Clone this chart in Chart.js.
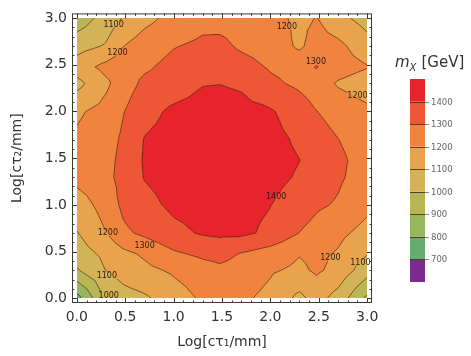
<!DOCTYPE html>
<html>
<head>
<meta charset="utf-8">
<script src="https://cdn.jsdelivr.net/npm/chart.js@4.4.1/dist/chart.umd.min.js"></script>
<style>
  html,body{margin:0;padding:0;background:#fff}
</style>
</head>
<body>
<canvas id="chart" width="471" height="356"></canvas>
<script>
// grid of Log[c tau / mm] values (1,2,3,5,10,... mm), same on both axes
const logCtau=[0, 0.301, 0.477, 0.699, 1, 1.301, 1.477, 1.699, 2, 2.301, 2.477, 2.699, 3];

// m_X [GeV], one row per Log[c tau2] (bottom row first)
const massRows=[
  [760, 1010, 1060, 1085, 1150, 1215, 1240, 1220, 1170, 1075, 1140, 1060, 880],
  [990, 1102, 1140, 1175, 1215, 1260, 1280, 1265, 1212, 1180, 1215, 1170, 1040],
  [1050, 1125, 1175, 1215, 1285, 1320, 1330, 1295, 1255, 1205, 1225, 1190, 1105],
  [1095, 1198, 1280, 1320, 1375, 1410, 1420, 1420, 1380, 1298, 1265, 1225, 1165],
  [1150, 1240, 1320, 1370, 1420, 1440, 1445, 1430, 1402, 1350, 1315, 1290, 1225],
  [1230, 1275, 1330, 1405, 1440, 1455, 1460, 1450, 1430, 1390, 1350, 1315, 1255],
  [1240, 1270, 1325, 1410, 1445, 1460, 1465, 1455, 1435, 1401, 1360, 1320, 1260],
  [1215, 1260, 1315, 1405, 1440, 1455, 1460, 1450, 1430, 1385, 1345, 1302, 1250],
  [1185, 1235, 1295, 1365, 1420, 1440, 1445, 1435, 1410, 1350, 1302, 1260, 1220],
  [1070, 1180, 1255, 1320, 1345, 1395, 1398, 1385, 1320, 1280, 1250, 1190, 1150],
  [1150, 1230, 1255, 1285, 1330, 1360, 1365, 1340, 1290, 1265, 1305, 1245, 1205],
  [1060, 1110, 1198, 1250, 1295, 1320, 1325, 1285, 1255, 1185, 1240, 1226, 1140],
  [940, 1040, 1105, 1170, 1230, 1270, 1265, 1255, 1230, 1180, 1203, 1130, 1060]
];

const levels=[600, 700, 800, 900, 1000, 1100, 1200, 1300, 1400, 1500];
const bandColors=['#7b2b8e','#64ad6c','#97b65e','#b8b654','#d2b357','#e9a34d','#f0843f','#ee5736','#e7242b'];
const tickVals=[0, 0.5, 1, 1.5, 2, 2.5, 3];

// contour labels: [Log ctau1, Log ctau2, text]
const contourLabels=[
  [0.38, 2.93, '1100'],
  [0.42, 2.63, '1200'],
  [2.17, 2.91, '1200'],
  [2.47, 2.53, '1300'],
  [2.90, 2.17, '1200'],
  [2.06, 1.09, '1400'],
  [0.32, 0.70, '1200'],
  [0.70, 0.56, '1300'],
  [0.31, 0.24, '1100'],
  [0.33, 0.03, '1000'],
  [2.62, 0.43, '1200'],
  [2.93, 0.38, '1100']
];

const lineColor='rgba(70,35,20,0.8)';
const n=logCtau.length;

function cellOf(v){
  let i=0;
  while(i<n-2 && v>logCtau[i+1]) i++;
  return i;
}

function bary(px,py,x1,y1,z1,x2,y2,z2,x3,y3,z3){
  const det=(y2-y3)*(x1-x3)+(x3-x2)*(y1-y3);
  const l1=((y2-y3)*(px-x3)+(x3-x2)*(py-y3))/det;
  const l2=((y3-y1)*(px-x3)+(x1-x3)*(py-y3))/det;
  return l1*z1+l2*z2+(1-l1-l2)*z3;
}

// each grid cell split in 4 triangles around its centre
function cellTris(i,j){
  const x0=logCtau[i],x1=logCtau[i+1],y0=logCtau[j],y1=logCtau[j+1];
  const a=massRows[j][i],b=massRows[j][i+1],c=massRows[j+1][i+1],d=massRows[j+1][i];
  const A=[x0,y0,a],B=[x1,y0,b],C=[x1,y1,c],D=[x0,y1,d];
  const M=[(x0+x1)/2,(y0+y1)/2,(a+b+c+d)/4];
  return [[A,B,M],[B,C,M],[C,D,M],[D,A,M]];
}

function massAt(x,y){
  x=Math.min(3,Math.max(0,x)); y=Math.min(3,Math.max(0,y));
  const i=cellOf(x),j=cellOf(y);
  const u=(x-logCtau[i])/(logCtau[i+1]-logCtau[i]);
  const v=(y-logCtau[j])/(logCtau[j+1]-logCtau[j]);
  const tris=cellTris(i,j);
  let t;
  if(v<=u && v<=1-u) t=tris[0];
  else if(u>=v && u>=1-v) t=tris[1];
  else if(v>=u && v>=1-u) t=tris[2];
  else t=tris[3];
  return bary(x,y,t[0][0],t[0][1],t[0][2],t[1][0],t[1][1],t[1][2],t[2][0],t[2][1],t[2][2]);
}

function bandOf(z){
  let k=0;
  while(k<bandColors.length-1 && z>=levels[k+1]) k++;
  return k;
}

function hexRgb(h){
  return [parseInt(h.slice(1,3),16),parseInt(h.slice(3,5),16),parseInt(h.slice(5,7),16)];
}

const contourPlugin={
  id:'contour',
  beforeDatasetsDraw(chart){
    const {ctx,chartArea}=chart;
    const xs=chart.scales.x, ys=chart.scales.y;
    const left=Math.round(xs.getPixelForValue(logCtau[0]));
    const right=Math.round(xs.getPixelForValue(logCtau[n-1]));
    const top=Math.round(ys.getPixelForValue(logCtau[n-1]));
    const bottom=Math.round(ys.getPixelForValue(logCtau[0]));
    const w=right-left,h=bottom-top;

    // filled bands
    const rgb=bandColors.map(hexRgb);
    const off=document.createElement('canvas');
    off.width=w; off.height=h;
    const octx=off.getContext('2d');
    const img=octx.createImageData(w,h);
    for(let r=0;r<h;r++){
      const y=ys.getValueForPixel(top+r+0.5);
      for(let c=0;c<w;c++){
        const x=xs.getValueForPixel(left+c+0.5);
        const col=rgb[bandOf(massAt(x,y))];
        const p=(r*w+c)*4;
        img.data[p]=col[0]; img.data[p+1]=col[1]; img.data[p+2]=col[2]; img.data[p+3]=255;
      }
    }
    octx.putImageData(img,0,0);
    ctx.drawImage(off,left,top);

    // contour lines, with gaps under the labels
    ctx.save();
    ctx.font='8px "DejaVu Sans"';
    ctx.beginPath();
    ctx.rect(left,top,w,h);
    contourLabels.forEach(([lx,ly,txt])=>{
      const cx=xs.getPixelForValue(lx),cy=ys.getPixelForValue(ly);
      const tw=ctx.measureText(txt).width;
      ctx.rect(cx-tw/2-1,cy-3,tw+2,6);
    });
    ctx.clip('evenodd');
    ctx.beginPath();
    for(let j=0;j<n-1;j++){
      for(let i=0;i<n-1;i++){
        cellTris(i,j).forEach(tri=>{
          for(let k=1;k<levels.length-1;k++){
            const L=levels[k];
            const pts=[];
            for(let e=0;e<3;e++){
              const P=tri[e],Q=tri[(e+1)%3];
              if((P[2]>=L)!==(Q[2]>=L)){
                const t=(L-P[2])/(Q[2]-P[2]);
                pts.push([P[0]+t*(Q[0]-P[0]),P[1]+t*(Q[1]-P[1])]);
              }
            }
            if(pts.length===2){
              ctx.moveTo(xs.getPixelForValue(pts[0][0]),ys.getPixelForValue(pts[0][1]));
              ctx.lineTo(xs.getPixelForValue(pts[1][0]),ys.getPixelForValue(pts[1][1]));
            }
          }
        });
      }
    }
    ctx.strokeStyle=lineColor;
    ctx.lineWidth=0.8;
    ctx.stroke();
    ctx.restore();

    ctx.save();
    ctx.font='8px "DejaVu Sans"';
    ctx.fillStyle='#2a1a12';
    ctx.textAlign='center';
    ctx.textBaseline='middle';
    contourLabels.forEach(([lx,ly,txt])=>{
      ctx.fillText(txt,xs.getPixelForValue(lx),ys.getPixelForValue(ly));
    });
    ctx.restore();
  },
  afterDraw(chart){
    const {ctx,chartArea:ca}=chart;
    const xs=chart.scales.x, ys=chart.scales.y;
    ctx.save();
    // frame with inward ticks
    ctx.strokeStyle='#3a3a3a';
    ctx.lineWidth=1;
    ctx.strokeRect(ca.left+0.5,ca.top+0.5,ca.width-1,ca.height-1);
    ctx.beginPath();
    for(let m=0;m<=30;m++){
      const v=m/10;
      const len=(m%5===0)?5:2.5;
      const px=Math.round(xs.getPixelForValue(v))+0.5;
      const py=Math.round(ys.getPixelForValue(v))+0.5;
      ctx.moveTo(px,ca.bottom); ctx.lineTo(px,ca.bottom-len);
      ctx.moveTo(px,ca.top); ctx.lineTo(px,ca.top+len);
      ctx.moveTo(ca.left,py); ctx.lineTo(ca.left+len,py);
      ctx.moveTo(ca.right,py); ctx.lineTo(ca.right-len,py);
    }
    ctx.stroke();

    // colour bar
    const cbL=410,cbR=425,cbTop=79,cbBot=282;
    const lo=levels[0],hi=levels[levels.length-1];
    const cy=v=>cbBot-(v-lo)/(hi-lo)*(cbBot-cbTop);
    for(let k=0;k<bandColors.length;k++){
      ctx.fillStyle=bandColors[k];
      ctx.fillRect(cbL,cy(levels[k+1]),cbR-cbL,cy(levels[k])-cy(levels[k+1]));
    }
    ctx.font='8.5px "DejaVu Sans"';
    ctx.textBaseline='middle';
    ctx.textAlign='left';
    for(let k=1;k<levels.length-1;k++){
      const y=Math.round(cy(levels[k]))+0.5;
      ctx.strokeStyle=lineColor;
      ctx.beginPath(); ctx.moveTo(cbL,y); ctx.lineTo(cbR,y); ctx.stroke();
      ctx.strokeStyle='#888';
      ctx.beginPath(); ctx.moveTo(cbR,y); ctx.lineTo(cbR+4,y); ctx.stroke();
      ctx.fillStyle='#666';
      ctx.fillText(String(levels[k]),cbR+6,y);
    }
    // colour bar title m_X [GeV]
    ctx.fillStyle='#333';
    ctx.textBaseline='alphabetic';
    ctx.font='italic 15px "DejaVu Sans"';
    ctx.fillText('m',395,67);
    let x=395+ctx.measureText('m').width;
    ctx.font='italic 10px "DejaVu Sans"';
    ctx.fillText('X',x,71);
    x+=ctx.measureText('X').width+2;
    ctx.font='15px "DejaVu Sans"';
    ctx.fillText('[GeV]',x+3,67);
    ctx.restore();
  }
};

const gridPoints=[];
massRows.forEach((row,j)=>row.forEach((m,i)=>gridPoints.push({x:logCtau[i],y:logCtau[j],m:m})));

const axisFont={family:'"DejaVu Sans"',size:14};

new Chart(document.getElementById('chart'),{
  type:'scatter',
  data:{datasets:[{label:'m_X',data:gridPoints,pointRadius:0,pointHoverRadius:0}]},
  options:{
    responsive:false,
    devicePixelRatio:1,
    animation:false,
    layout:{padding:{left:0,right:99,top:4,bottom:0}},
    plugins:{legend:{display:false},tooltip:{enabled:false}},
    scales:{
      x:{
        type:'linear',min:-0.05,max:3.05,
        afterBuildTicks:s=>{s.ticks=tickVals.map(v=>({value:v}));},
        afterFit:s=>{s.height=53;},
        grid:{display:false,drawTicks:false,tickLength:0},
        border:{display:false},
        ticks:{callback:v=>v.toFixed(1),font:axisFont,color:'#333',padding:6,maxRotation:0,autoSkip:false},
        title:{display:true,text:'Log[cτ₁/mm]',font:axisFont,color:'#333',padding:{top:0,bottom:5}}
      },
      y:{
        type:'linear',min:-0.05,max:3.05,
        afterBuildTicks:s=>{s.ticks=tickVals.map(v=>({value:v}));},
        afterFit:s=>{s.width=72;},
        grid:{display:false,drawTicks:false,tickLength:0},
        border:{display:false},
        ticks:{callback:v=>v.toFixed(1),font:axisFont,color:'#333',padding:5,autoSkip:false},
        title:{display:true,text:'Log[cτ₂/mm]',font:axisFont,color:'#333',padding:{top:9,bottom:0}}
      }
    }
  },
  plugins:[contourPlugin]
});
</script>
</body>
</html>
